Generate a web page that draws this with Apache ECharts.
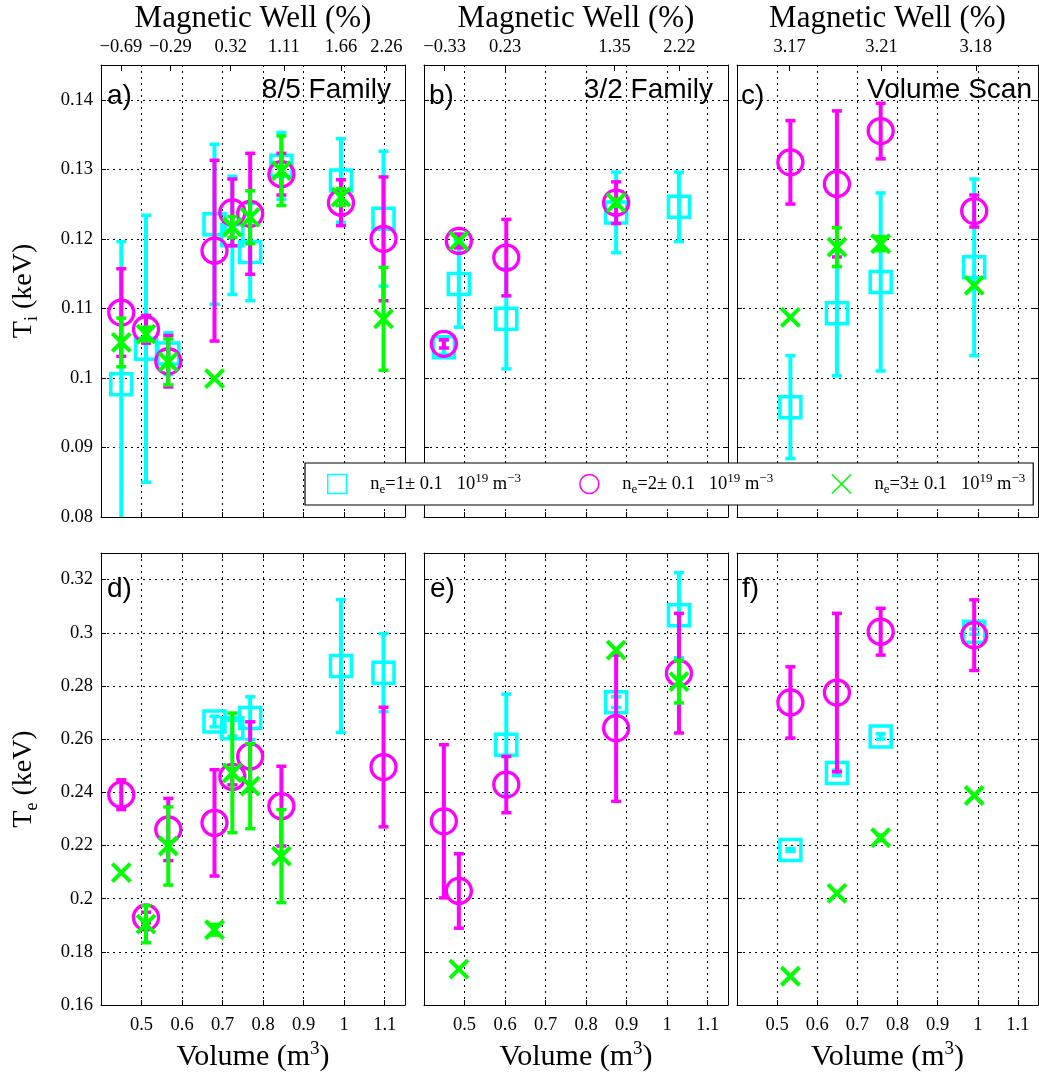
<!DOCTYPE html>
<html>
<head>
<meta charset="utf-8">
<script src="https://cdn.jsdelivr.net/npm/echarts@6/dist/echarts.min.js"></script>
<style>html,body{margin:0;padding:0;background:#fff}#c{width:1039px;height:1078px}</style>
</head>
<body>
<div id="c"></div>
<script>
// ---------------- data ----------------
const seriesNames = ['n1', 'n2', 'n3'];
const densityVals = ['1', '2', '3'];

// top-axis (magnetic well) tick positions (volume) and labels
const wellVolA = [0.449, 0.571, 0.72, 0.851, 0.992, 1.104];
const wellLabA = ['\u22120.69', '\u22120.29', '0.32', '1.11', '1.66', '2.26'];
const wellVolB = [0.451, 0.6, 0.87, 1.03];
const wellLabB = ['\u22120.33', '0.23', '1.35', '2.22'];
const wellVolC = [0.531, 0.76, 0.995];
const wellLabC = ['3.17', '3.21', '3.18'];

// 8/5 family volumes (panels a, d)
const vol85 = [0.45, 0.511, 0.566, 0.68, 0.724, 0.768, 0.845, 0.992, 1.097];
// panel a: Ti
const tiA1 = [0.0991, 0.1042, 0.1035, 0.1221, 0.1205, 0.1181, 0.1305, 0.1284, 0.1229];
const tiA1Err = [0.0205, 0.0192, 0.003, 0.0115, 0.0085, 0.007, 0.0048, 0.006, 0.0097];
const tiA2 = [0.1094, 0.1070, 0.1024, 0.1183, 0.1238, 0.1236, 0.1293, 0.1252, 0.1200];
const tiA2Err = [0.0063, 0.002, 0.0037, 0.013, 0.0048, 0.0087, 0.003, 0.0033, 0.0089];
const tiA3 = [0.1051, 0.1063, 0.1023, 0.0999, 0.1217, 0.1231, 0.1298, 0.1260, 0.1085];
const tiA3Err = [0.0035, 0.001, 0.0033, 0, 0.0015, 0.0038, 0.005, 0.0012, 0.0074];
// panel d: Te
const teD1 = [null, null, null, 0.2666, 0.2641, 0.2679, null, 0.2875, 0.2850];
const teD1Err = [null, null, null, 0.002, 0.003, 0.008, null, 0.025, 0.0147];
const teD2 = [0.2391, 0.1929, 0.2260, 0.2285, 0.2458, 0.2535, 0.2348, null, 0.2495];
const teD2Err = [0.0056, 0.002, 0.0117, 0.020, 0.003, 0.013, 0.015, null, 0.0225];
const teD3 = [0.2098, 0.1904, 0.2198, 0.1883, 0.2473, 0.2423, 0.2160, null, null];
const teD3Err = [0, 0.007, 0.0147, 0.002, 0.0225, 0.016, 0.0175, null, null];

// 3/2 family volumes (panels b, e)
const vol32 = [0.449, 0.486, 0.603, 0.874, 1.029];
const tiB1 = [0.1044, 0.1135, 0.1085, 0.1238, 0.1246];
const tiB1Err = [0.001, 0.0062, 0.0072, 0.0058, 0.005];
const tiB2 = [0.1049, 0.1197, 0.1173, 0.1252, null];
const tiB2Err = [0.0006, 0.001, 0.0055, 0.003, null];
const tiB3 = [null, 0.1197, null, 0.1252, null];
const tiB3Err = [null, 0, null, 0.0005, null];
const teE1 = [null, null, 0.2579, 0.2739, 0.3066];
const teE1Err = [null, null, 0.019, 0.002, 0.016];
const teE2 = [0.2291, 0.2029, 0.2429, 0.2641, 0.2848];
const teE2Err = [0.0288, 0.014, 0.0106, 0.0275, 0.0225];
const teE3 = [null, 0.1735, null, 0.2935, 0.2816];
const teE3Err = [null, 0, null, 0, 0.008];

// volume scan (panels c, f)
const volScan = [0.533, 0.649, 0.758, 0.991];
const tiC1 = [0.0958, 0.1093, 0.1138, 0.1159];
const tiC1Err = [0.0074, 0.009, 0.0128, 0.0127];
const tiC2 = [0.1310, 0.1279, 0.1355, 0.1240];
const tiC2Err = [0.006, 0.0105, 0.004, 0.0023];
const tiC3 = [0.1087, 0.1188, 0.1193, 0.1133];
const tiC3Err = [0, 0.0028, 0.001, 0];
const teF1 = [0.2183, 0.2473, 0.2610, 0.3004];
const teF1Err = [0.0005, 0.001, 0.001, 0.001];
const teF2 = [0.2738, 0.2775, 0.3004, 0.2991];
const teF2Err = [0.0134, 0.0298, 0.0088, 0.0133];
const teF3 = [0.1708, 0.2020, 0.2229, 0.2388];
const teF3Err = [0, 0, 0.001, 0];

const panelLetters = ['a)', 'b)', 'c)', 'd)', 'e)', 'f)'];
const panelTitles = ['8/5 Family', '3/2 Family', 'Volume Scan'];

// ---------------- layout / style ----------------
const colors = ['#00ffff', '#ff00ff', '#00ff00'];
const kinds = ['square', 'circle', 'cross'];
const serif = 'Liberation Serif';
const sans = 'Liberation Sans';

const gridBoxes = [
  { left: 101, top: 65, width: 304, height: 452 },
  { left: 424, top: 65, width: 304, height: 452 },
  { left: 737, top: 65, width: 301, height: 452 },
  { left: 101, top: 553, width: 304, height: 452 },
  { left: 424, top: 553, width: 304, height: 452 },
  { left: 737, top: 553, width: 301, height: 452 }
];

const panelData = [
  { vol: vol85, s: [[tiA1, tiA1Err], [tiA2, tiA2Err], [tiA3, tiA3Err]] },
  { vol: vol32, s: [[tiB1, tiB1Err], [tiB2, tiB2Err], [tiB3, tiB3Err]] },
  { vol: volScan, s: [[tiC1, tiC1Err], [tiC2, tiC2Err], [tiC3, tiC3Err]] },
  { vol: vol85, s: [[teD1, teD1Err], [teD2, teD2Err], [teD3, teD3Err]] },
  { vol: vol32, s: [[teE1, teE1Err], [teE2, teE2Err], [teE3, teE3Err]] },
  { vol: volScan, s: [[teF1, teF1Err], [teF2, teF2Err], [teF3, teF3Err]] }
];
const wellVols = [wellVolA, wellVolB, wellVolC];
const wellLabs = [wellLabA, wellLabB, wellLabC];

const dotted = { color: '#000', type: [2, 4], width: 1 };
const blackLine = { color: '#000', width: 1 };
const tickFont = { color: '#000', fontFamily: serif, fontSize: 18.5 };

function nearestIdx(arr, v) {
  let b = 0;
  for (let i = 1; i < arr.length; i++) if (Math.abs(arr[i] - v) < Math.abs(arr[b] - v)) b = i;
  return b;
}

function buildRender(kind, color) {
  return function (params, api) {
    const x = api.value(0), y = api.value(1), e = api.value(2);
    const p = api.coord([x, y]);
    const ch = [];
    if (e > 0) {
      const t = api.coord([x, y + e])[1];
      const b = api.coord([x, y - e])[1];
      ch.push({ type: 'line', shape: { x1: p[0], y1: t, x2: p[0], y2: b }, style: { stroke: color, lineWidth: 4 } });
      ch.push({ type: 'line', shape: { x1: p[0] - 5, y1: t, x2: p[0] + 5, y2: t }, style: { stroke: color, lineWidth: 3.5 } });
      ch.push({ type: 'line', shape: { x1: p[0] - 5, y1: b, x2: p[0] + 5, y2: b }, style: { stroke: color, lineWidth: 3.5 } });
    }
    if (kind === 'square') {
      ch.push({ type: 'rect', shape: { x: p[0] - 10.5, y: p[1] - 10.5, width: 21, height: 21 }, style: { fill: 'none', stroke: color, lineWidth: 3.5 } });
    } else if (kind === 'circle') {
      ch.push({ type: 'circle', shape: { cx: p[0], cy: p[1], r: 12.5 }, style: { fill: 'none', stroke: color, lineWidth: 3.3 } });
    } else {
      const s = 9;
      ch.push({ type: 'line', shape: { x1: p[0] - s, y1: p[1] - s, x2: p[0] + s, y2: p[1] + s }, style: { stroke: color, lineWidth: 4 } });
      ch.push({ type: 'line', shape: { x1: p[0] - s, y1: p[1] + s, x2: p[0] + s, y2: p[1] - s }, style: { stroke: color, lineWidth: 4 } });
    }
    return { type: 'group', children: ch };
  };
}

const grid = [], xAxis = [], yAxis = [], series = [];
for (let g = 0; g < 6; g++) {
  const isTop = g < 3;
  const col = g % 3;
  grid.push(Object.assign({ show: false }, gridBoxes[g]));
  // bottom x axis
  xAxis.push({
    type: 'value', gridIndex: g, position: 'bottom', min: 0.4, max: 1.15, interval: 0.1,
    axisLine: { show: true, onZero: false, lineStyle: blackLine },
    axisTick: { show: true, inside: true, length: 5, lineStyle: blackLine },
    axisLabel: Object.assign({ show: !isTop, showMinLabel: false, showMaxLabel: false, margin: 11 }, tickFont),
    splitLine: { show: true, lineStyle: dotted },
    name: isTop ? '' : 'Volume (m{sup|3})', nameLocation: 'middle', nameGap: 35,
    nameTextStyle: { color: '#000', fontFamily: serif, fontSize: 30, lineHeight: 34,
      rich: { sup: { fontFamily: serif, fontSize: 19, lineHeight: 19, verticalAlign: 'top', color: '#000' } } }
  });
  // top x axis
  if (isTop) {
    const wv = wellVols[col], wl = wellLabs[col];
    xAxis.push({
      type: 'value', gridIndex: g, position: 'top', min: 0.4, max: 1.15,
      axisLine: { show: true, onZero: false, lineStyle: blackLine },
      axisTick: { show: true, inside: true, length: 6, customValues: wv, lineStyle: blackLine },
      axisLabel: Object.assign({ show: true, customValues: wv, margin: 8,
        formatter: function (v) { return wl[nearestIdx(wv, v)]; } }, tickFont),
      splitLine: { show: false },
      name: 'Magnetic Well (%)', nameLocation: 'middle', nameGap: 31,
      nameTextStyle: { color: '#000', fontFamily: serif, fontSize: 31 }
    });
  } else {
    xAxis.push({
      type: 'value', gridIndex: g, position: 'top', min: 0.4, max: 1.15, interval: 0.1,
      axisLine: { show: true, onZero: false, lineStyle: blackLine },
      axisTick: { show: true, inside: true, length: 5, lineStyle: blackLine },
      axisLabel: { show: false }, splitLine: { show: false }
    });
  }
  const yr = isTop ? { min: 0.08, max: 0.145, interval: 0.01 } : { min: 0.16, max: 0.33, interval: 0.02 };
  yAxis.push(Object.assign({
    type: 'value', gridIndex: g, position: 'left',
    axisLine: { show: true, onZero: false, lineStyle: blackLine },
    axisTick: { show: true, inside: true, length: 5, lineStyle: blackLine },
    axisLabel: Object.assign({ show: col === 0, showMaxLabel: false, margin: 8 }, tickFont),
    splitLine: { show: true, lineStyle: dotted },
    name: col === 0 ? (isTop ? 'T{sub|i} (keV)' : 'T{sub|e} (keV)') : '',
    nameLocation: 'middle', nameGap: 60,
    nameTextStyle: { color: '#000', fontFamily: serif, fontSize: 28, lineHeight: 34,
      rich: { sub: { fontFamily: serif, fontSize: 18, lineHeight: 18, verticalAlign: 'bottom', color: '#000' } } }
  }, yr));
  yAxis.push(Object.assign({
    type: 'value', gridIndex: g, position: 'right',
    axisLine: { show: true, onZero: false, lineStyle: blackLine },
    axisTick: { show: true, inside: true, length: 5, lineStyle: blackLine },
    axisLabel: { show: false }, splitLine: { show: false }
  }, yr));

  const pd = panelData[g];
  for (let k = 0; k < 3; k++) {
    const vals = pd.s[k][0], errs = pd.s[k][1];
    const data = [];
    pd.vol.forEach(function (v, i) { if (vals[i] != null) data.push([v, vals[i], errs[i] || 0]); });
    series.push({
      type: 'custom', name: seriesNames[k], xAxisIndex: 2 * g, yAxisIndex: 2 * g,
      clip: true, encode: { x: 0, y: 1 }, itemStyle: { color: colors[k] },
      renderItem: buildRender(kinds[k], colors[k]), data: data, z: 2
    });
  }
}

const graphic = [];
const letterPos = [[107, 96], [429, 96], [741, 96], [107, 589], [430, 589], [742, 589]];
panelLetters.forEach(function (t, i) {
  graphic.push({ type: 'text', x: letterPos[i][0], y: letterPos[i][1], z: 10,
    style: { text: t, fontFamily: sans, fontSize: 28, fill: '#000', align: 'left', verticalAlign: 'middle' } });
});
const titleRight = [391, 713, 1032];
panelTitles.forEach(function (t, i) {
  graphic.push({ type: 'text', x: titleRight[i], y: 90, z: 10,
    style: { text: t, fontFamily: sans, fontSize: 28, fill: '#000', align: 'right', verticalAlign: 'middle' } });
});

const option = {
  backgroundColor: '#fff',
  animation: false,
  grid: grid, xAxis: xAxis, yAxis: yAxis, series: series, graphic: graphic,
  legend: {
    left: 305, top: 463, width: 740, orient: 'horizontal', selectedMode: false, z: 20,
    data: [
      { name: 'n1', icon: 'rect', itemStyle: { color: 'rgba(0,0,0,0)', borderColor: colors[0], borderWidth: 1.5 } },
      { name: 'n2', icon: 'circle', itemStyle: { color: 'rgba(0,0,0,0)', borderColor: colors[1], borderWidth: 1.5 } },
      { name: 'n3', icon: 'path://M0,0L10,10M10,0L0,10', itemStyle: { color: 'rgba(0,0,0,0)', borderColor: colors[2], borderWidth: 1.5 } }
    ],
    itemWidth: 19, itemHeight: 19, itemGap: 58,
    backgroundColor: '#fff', borderColor: '#000', borderWidth: 1.2, borderRadius: 0,
    padding: [9, 8, 9, 22],
    formatter: function (name) {
      const i = seriesNames.indexOf(name);
      return '    n{sub|e}=' + densityVals[i] + '\u00b1 0.1   10{sup|19} m{sup|\u22123}';
    },
    textStyle: { fontFamily: serif, fontSize: 18.5, color: '#000', lineHeight: 24,
      rich: {
        sub: { fontFamily: serif, fontSize: 13, lineHeight: 13, verticalAlign: 'bottom', color: '#000' },
        sup: { fontFamily: serif, fontSize: 13, lineHeight: 13, verticalAlign: 'top', color: '#000' }
      } }
  }
};

const chart = echarts.init(document.getElementById('c'), null, { renderer: 'canvas' });
chart.setOption(option);
</script>
</body>
</html>
